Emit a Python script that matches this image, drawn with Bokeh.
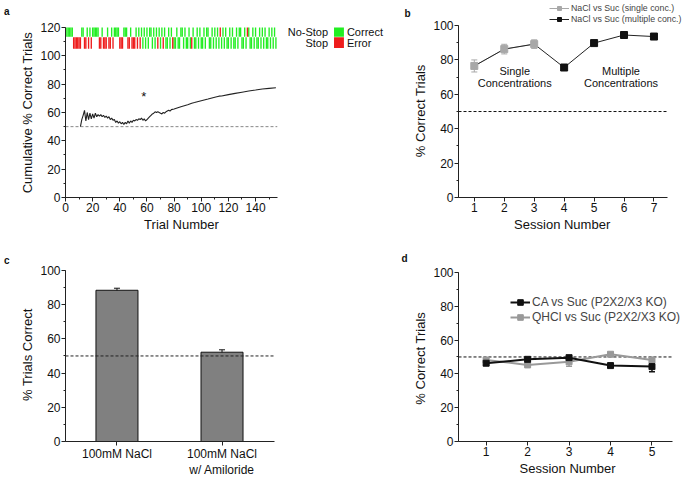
from bokeh.plotting import figure
from bokeh.layouts import row, column
from bokeh.models import (Range1d, SingleIntervalTicker, FixedTicker, Label, Legend,
                          LegendItem, Whisker, ColumnDataSource, TeeHead, LinearAxis)
from bokeh.embed import file_html
from bokeh.resources import INLINE

FONT = "Liberation Sans"
GREEN = "#22ee22"
RED = "#ee1c1c"

# ---------------- Panel a data ----------------
# one code per trial: n = No-Stop correct, x = No-Stop error, s = Stop correct, e = Stop error
raster_codes = ("nnnnneeeee" "enneenenen" "nnnneeneee" "neenennnne" "eennneenee"
                "enenensnsn" "snnsnsnens" "nenssnsnes" "snssnnsnss" "nsenssnsns"
                "snsnnssnsn" "snsxsnsnss" "nsnssnsnns" "snsxnssnsn" "ssnsnsnssn" "snsns")
row_names = ["No-Stop", "Stop"]
outcome_names = ["Correct", "Error"]

cum_trials = [11, 12, 13, 14, 15, 16, 17, 18, 19, 20, 21, 22, 23, 24, 25, 26, 27, 28, 29, 30,
              31, 32, 33, 34, 35, 36, 37, 38, 39, 40, 41, 42, 43, 44, 45, 46, 47, 48, 49, 50,
              51, 52, 53, 54, 55, 56, 57, 58, 59, 60, 61, 62, 63, 64, 65, 66, 67, 68, 69, 70,
              71, 72, 73, 74, 75, 76, 77, 78, 80, 85, 90, 93, 95, 100, 105, 110, 113, 115,
              120, 125, 130, 135, 140, 145, 150, 155]
cum_pct = [50, 55, 58, 61.5, 54, 60, 55, 59.5, 55.5, 59, 56, 59.5, 57, 58.5, 57.5, 58.5, 57, 58, 56.5, 57.5,
           56, 57, 55, 56, 54.5, 55, 53, 54, 52.5, 53.5, 52, 53, 51.5, 53, 52, 54, 52.5, 54, 53, 54.5,
           54, 55, 54.5, 55.5, 55, 56, 54.5, 55.5, 54, 55, 56, 57, 58, 59, 59.5, 60.5, 60, 60.5, 60, 59.5,
           59, 60, 59.5, 60.5, 61, 61.5, 61, 62, 62.5, 64, 65.5, 66.5, 67, 68.3, 69.5, 70.8, 71.5, 71.6,
           72.6, 73.5, 74.3, 75.1, 75.8, 76.6, 77, 77.4]

# ---------------- Panel b data ----------------
sessions_single = [1, 2, 3]
pct_single = [76.5, 86.3, 89.2]
err_single = [3.5, 2.8, 2.5]
sessions_multi = [4, 5, 6, 7]
pct_multi = [75.6, 89.8, 94.5, 93.6]
err_multi = [0.6, 0.6, 1.7, 0.6]

# ---------------- Panel c data ----------------
bar_cats = ["100mM NaCl", "100mM NaCl\nw/ Amiloride"]
bar_pct = [88.4, 52.2]
bar_err = [1.2, 1.4]

# ---------------- Panel d data ----------------
sessions_d = [1, 2, 3, 4, 5]
pct_ca = [46.3, 48.6, 49.6, 44.9, 44.3]
err_ca = [1.2, 0.8, 0.7, 0.7, 3.1]
pct_qhcl = [48.2, 45.3, 47.2, 51.6, 48.2]
err_qhcl = [1.0, 0.8, 2.7, 1.0, 1.5]


def pad(text, n):
    # axis titles are centred on the (enlarged) frame: trailing no-break spaces
    # move the visible text back over the drawn axis
    return text + "\u00a0" * n


def style(p, xlabel=None, ylabel=None):
    p.outline_line_color = None
    p.xgrid.visible = False
    p.ygrid.visible = False
    p.background_fill_color = "white"
    p.border_fill_color = "white"
    for ax in (p.xaxis[0], p.yaxis[0]):
        ax.axis_line_color = "#222"
        ax.major_tick_line_color = "#222"
        ax.minor_tick_line_color = "#222"
        ax.major_tick_in = 0
        ax.major_tick_out = 4
        ax.minor_tick_in = 0
        ax.minor_tick_out = 2
        ax.major_label_text_font = FONT
        ax.major_label_text_font_size = "12px"
        ax.major_label_text_color = "#111"
        ax.axis_label_text_font = FONT
        ax.axis_label_text_font_size = "13px"
        ax.axis_label_text_font_style = "normal"
        ax.axis_label_text_color = "#111"
        ax.major_label_standoff = 1
        ax.axis_label_standoff = 2
    if xlabel:
        p.xaxis[0].axis_label = xlabel
    if ylabel:
        p.yaxis[0].axis_label = ylabel


def letter_axis(p, text, y, standoff):
    # panel letter shown as the single label of an extra, invisible left axis
    ax = LinearAxis(ticker=FixedTicker(ticks=[y]), major_label_overrides={y: text},
                    axis_line_color=None, major_tick_line_color=None, minor_tick_line_color=None,
                    major_tick_out=0, major_tick_in=0, minor_tick_out=0, minor_tick_in=0,
                    major_label_standoff=standoff, major_label_text_font=FONT,
                    major_label_text_font_size="10px", major_label_text_font_style="bold",
                    major_label_text_color="#111")
    p.add_layout(ax, "left")


def whisker(p, x, vals, errs, color, width=1.0):
    src = ColumnDataSource(dict(x=x, lo=[v - e for v, e in zip(vals, errs)],
                                hi=[v + e for v, e in zip(vals, errs)]))
    p.add_layout(Whisker(source=src, base="x", lower="lo", upper="hi", line_color=color,
                         line_width=width,
                         upper_head=TeeHead(size=6, line_color=color, line_width=width),
                         lower_head=TeeHead(size=6, line_color=color, line_width=width)))


def common(**kw):
    return dict(output_backend="svg", toolbar_location=None, **kw)


# Plots in the same row / column share borders (the layout aligns them); frames are
# enlarged towards the free space and the axes are limited with bounds.

# ======================= Panel a =======================
pa = figure(width=398, height=250, x_range=Range1d(0, 245.3), y_range=Range1d(0, 137.6),
            min_border_left=62, min_border_right=0, min_border_top=2, min_border_bottom=53,
            **common())
style(pa, pad("Trial Number", 28), pad("Cumulative % Correct Trials", 7))
pa.xaxis[0].ticker = SingleIntervalTicker(interval=20, num_minor_ticks=2)
pa.yaxis[0].ticker = SingleIntervalTicker(interval=20, num_minor_ticks=2)
pa.xaxis[0].bounds = (0, 156)
pa.yaxis[0].bounds = (0, 120)

good = dict(left=[], right=[], top=[], bottom=[])
bad = dict(left=[], right=[], top=[], bottom=[])
for i, c in enumerate(raster_codes):
    t = i + 1
    top, bot = (120, 113.5) if c in "nx" else (113, 105)
    d = good if c in "ns" else bad
    d["left"].append(t - 0.5)
    d["right"].append(t + 0.5)
    d["top"].append(top)
    d["bottom"].append(bot)
pa.quad(source=ColumnDataSource(good), left="left", right="right", top="top",
        bottom="bottom", fill_color=GREEN, line_color=None)
pa.quad(source=ColumnDataSource(bad), left="left", right="right", top="top",
        bottom="bottom", fill_color=RED, line_color=None)

pa.segment(x0=[0], y0=[50], x1=[156], y1=[50], line_color="#888", line_dash="3 2", line_width=1)
pa.line(cum_trials, cum_pct, line_color="#222", line_width=1.1)
pa.add_layout(Label(x=57.7, y=71, text="*", text_font=FONT, text_font_size="13px",
                    text_align="center", text_baseline="middle", text_color="#111"))

# key: row names, colour squares, outcome names
pa.quad(left=[197.8, 197.8], right=[205.1, 205.1], top=[120, 113], bottom=[113.5, 105.5],
        fill_color=[GREEN, RED], line_color=None)
for yy, rn, on in [(116.6, row_names[0], outcome_names[0]), (108.9, row_names[1], outcome_names[1])]:
    pa.add_layout(Label(x=193.4, y=yy, text=rn, text_font=FONT, text_font_size="11px",
                        text_align="right", text_baseline="middle", text_color="#111"))
    pa.add_layout(Label(x=207.3, y=yy, text=on, text_font=FONT, text_font_size="11px",
                        text_align="left", text_baseline="middle", text_color="#111"))
letter_axis(pa, "a", 131, 8)

# ======================= Panel b =======================
pb = figure(width=289, height=250, x_range=Range1d(0.472, 8.12), y_range=Range1d(0, 113.4),
            min_border_left=57, min_border_right=0, min_border_top=2, min_border_bottom=53,
            **common())
style(pb, pad("Session Number", 6), pad("% Correct Trials", 6))
pb.xaxis[0].ticker = SingleIntervalTicker(interval=1, num_minor_ticks=0)
pb.yaxis[0].ticker = SingleIntervalTicker(interval=20, num_minor_ticks=2)
pb.xaxis[0].bounds = (0.472, 7.46)
pb.yaxis[0].bounds = (0, 100)
pb.segment(x0=[0.472], y0=[50], x1=[7.46], y1=[50], line_color="#111", line_dash="3 2", line_width=1)

GRAY_B = "#a8a8a8"
r_gl = pb.line(sessions_single, pct_single, line_color=GRAY_B, line_width=1)
r_bl = pb.line(sessions_single + sessions_multi, pct_single + pct_multi, line_color="#222", line_width=1)
whisker(pb, sessions_single, pct_single, err_single, GRAY_B)
whisker(pb, sessions_multi, pct_multi, err_multi, "#111")
r_gs = pb.scatter(sessions_single, pct_single, marker="square", size=7, fill_color=GRAY_B,
                  line_color=GRAY_B)
r_bs = pb.scatter(sessions_multi, pct_multi, marker="square", size=7, fill_color="#111",
                  line_color="#111")

for x, y, t in [(2.35, 73.3, "Single"), (2.35, 66.3, "Concentrations"),
                (5.9, 73.3, "Multiple"), (5.9, 66.3, "Concentrations")]:
    pb.add_layout(Label(x=x, y=y, text=t, text_font=FONT, text_font_size="11px",
                        text_align="center", text_baseline="middle", text_color="#111"))

leg_b = Legend(items=[LegendItem(label="NaCl vs Suc (single conc.)", renderers=[r_gl, r_gs]),
                      LegendItem(label="NaCl vs Suc (multiple conc.)", renderers=[r_bl, r_bs])],
               location=(91, 173), glyph_width=20, glyph_height=10, label_height=10, spacing=1,
               label_standoff=2, padding=0, margin=0, border_line_color=None,
               background_fill_alpha=0, label_text_font=FONT, label_text_font_size="8.8px")
pb.add_layout(leg_b)
letter_axis(pb, "b", 107, 0)

# ======================= Panel c =======================
bar_x = list(range(1, len(bar_cats) + 1))
pc = figure(width=398, height=233, x_range=Range1d(0.51, 3.68), y_range=Range1d(0, 109.9),
            min_border_left=62, min_border_right=0, min_border_top=3, min_border_bottom=42,
            **common())
style(pc, None, pad("% Trials Correct", 4))
pc.yaxis[0].ticker = SingleIntervalTicker(interval=20, num_minor_ticks=2)
pc.yaxis[0].bounds = (0, 100)
pc.xaxis[0].ticker = FixedTicker(ticks=bar_x)
pc.xaxis[0].major_label_overrides = {x: c for x, c in zip(bar_x, bar_cats)}
pc.xaxis[0].bounds = (0.51, 2.5)
pc.vbar(x=bar_x, top=bar_pct, width=0.4, fill_color="#808080", line_color="#111", line_width=1)
pc.segment(x0=[0.51], y0=[50], x1=[2.5], y1=[50], line_color="#222", line_dash="3 2", line_width=1)
whisker(pc, bar_x, bar_pct, bar_err, "#111")
letter_axis(pc, "c", 106, 8)

# ======================= Panel d =======================
pd_ = figure(width=289, height=233, x_range=Range1d(0.333, 5.857), y_range=Range1d(0, 111.2),
             min_border_left=57, min_border_right=0, min_border_top=3, min_border_bottom=42,
             **common())
style(pd_, pad("Session Number", 3), pad("% Correct Trials", 6))
pd_.xaxis[0].ticker = SingleIntervalTicker(interval=1, num_minor_ticks=0)
pd_.yaxis[0].ticker = SingleIntervalTicker(interval=20, num_minor_ticks=2)
pd_.xaxis[0].bounds = (0.333, 5.5)
pd_.yaxis[0].bounds = (0, 100)
pd_.segment(x0=[0.333], y0=[50], x1=[5.5], y1=[50], line_color="#111", line_dash="3 2", line_width=1)

GRAY_D = "#999999"
r_ql = pd_.line(sessions_d, pct_qhcl, line_color=GRAY_D, line_width=2)
r_qs = pd_.scatter(sessions_d, pct_qhcl, marker="square", size=6, fill_color=GRAY_D, line_color=GRAY_D)
whisker(pd_, sessions_d, pct_qhcl, err_qhcl, GRAY_D, 1.5)
r_cl = pd_.line(sessions_d, pct_ca, line_color="#111", line_width=2)
r_cs = pd_.scatter(sessions_d, pct_ca, marker="square", size=6, fill_color="#111", line_color="#111")
whisker(pd_, sessions_d, pct_ca, err_ca, "#111", 1.5)

leg_d = Legend(items=[LegendItem(label="CA vs Suc (P2X2/X3 KO)", renderers=[r_cl, r_cs]),
                      LegendItem(label="QHCl vs Suc (P2X2/X3 KO)", renderers=[r_ql, r_qs])],
               location=(52, 117), glyph_width=20, glyph_height=14, label_height=14, spacing=1,
               label_standoff=2, padding=0, margin=0, border_line_color=None,
               background_fill_alpha=0, label_text_font=FONT, label_text_font_size="12px")
pd_.add_layout(leg_d)
letter_axis(pd_, "d", 108, 3)

layout = row(column(pa, pc), column(pb, pd_))
open("out.html", "w").write(file_html(layout, INLINE, title="Figure"))
